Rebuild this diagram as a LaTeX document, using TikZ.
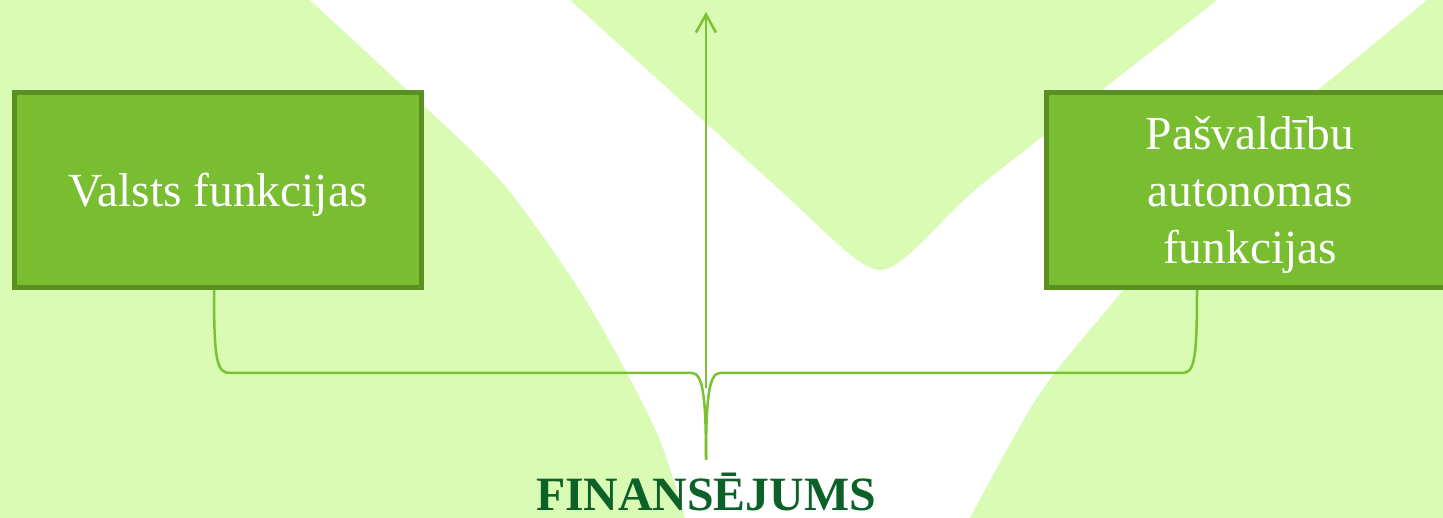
\documentclass[tikz,border=0pt]{standalone}
\usepackage{fontspec}
\setmainfont{Liberation Serif}
\usetikzlibrary{arrows.meta}
\definecolor{bglight}{HTML}{D9FBB3}
\definecolor{boxfill}{HTML}{78BE30}
\definecolor{boxline}{HTML}{5A8F22}
\definecolor{linegreen}{HTML}{7AC232}
\definecolor{darkgreen}{HTML}{0B6127}

\begin{document}
\begin{tikzpicture}[x=0.2mm, y=-0.2mm,
  func/.style={rectangle, draw=boxline, line width=1mm, fill=boxfill,
               minimum width=81.4mm, minimum height=39mm, align=center,
               text depth=0pt, text=white,
               font=\fontsize{27}{32.6}\selectfont},
  brc/.style={linegreen, line width=0.5mm},
  flow/.style={-{Straight Barb[length=3.6mm, width=4mm]}, linegreen,
               line width=0.5mm},
  title/.style={font=\bfseries\fontsize{27.2}{33}\selectfont,
                text=darkgreen, inner sep=0pt, text depth=0pt}
]
\useasboundingbox (0,0) rectangle (1443,518);
\clip (0,0) rectangle (1443,518);
% background
\fill[bglight] (0,0) rectangle (1443,518);
\fill[white] plot[smooth] coordinates {(310,0) (407,90) (500,180) (573,280)
    (620,360) (660,440) (685,518)}
  -- plot[smooth] coordinates {(970,518) (1040,393) (1123,290) (1220,170)
    (1320,88) (1427,0)} -- cycle;
\fill[bglight] (570,0) -- (780,190) .. controls (825,231) and (860,270) .. (880,270)
  .. controls (905,270) and (941,216) .. (987,180) -- (1217,0) -- cycle;
% boxes
\node[func] (valsts) at (218,190) {Valsts funkcijas};
\node[func] (pasv) at (1250,190) {Pašvaldību\\autonomas\\funkcijas};
% brace
\coordinate (bl) at (214,290);
\coordinate (br) at (1197,290);
\coordinate (tip) at (706,460);
\draw[brc] (bl) .. controls (214,362) and (217,373) .. (230,373) -- (692,373)
  .. controls (703,373) and (706,398) .. (tip);
\draw[brc] (br) .. controls (1197,362) and (1194,373) .. (1182,373) -- (720,373)
  .. controls (709,373) and (706,398) .. (tip);
% arrow
\coordinate (src) at (706,388);
\coordinate (top) at (706,12);
\draw[flow] (src) -- (top);
% label
\node[title, anchor=base] (fin) at (706,511) {FINANSĒJUMS};
\end{tikzpicture}
\end{document}
